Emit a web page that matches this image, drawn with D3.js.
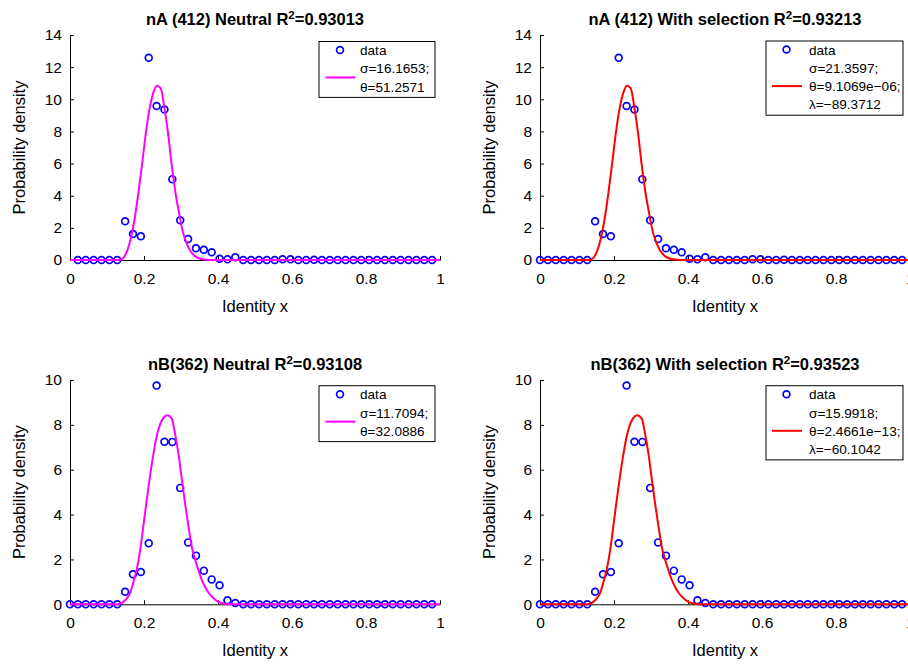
<!DOCTYPE html>
<html><head><meta charset="utf-8">
<script src="https://cdn.jsdelivr.net/npm/d3@7/dist/d3.min.js"></script>
<style>
html,body{margin:0;padding:0;background:#fff;overflow:hidden;}
svg{display:block;font-family:"Liberation Sans",Arial,sans-serif;}
</style></head>
<body>
<svg id="c" width="908" height="665"></svg>
<script>
// ---------- data ----------
const binCount = 47;                 // bins at k/47, k = 0..46
const densityA = [0,0,0,0,0,0,0,2.41,1.62,1.48,12.58,9.58,9.36,5.03,2.47,1.31,0.73,0.64,0.48,0.08,0.04,0.17,
  0,0,0,0,0,0.05,0.05,0,0,0.02,0,0,0,0,0,0,0,0,0,0,0,0,0,0,0];
const densityB = [0,0,0,0,0,0,0,0.56,1.34,1.44,2.72,9.75,7.25,7.24,5.19,2.76,2.17,1.50,1.11,0.85,0.18,0.06,
  0,0,0,0,0,0,0,0,0,0,0,0,0,0,0,0,0,0,0,0,0,0,0,0,0];
// fitted curves (x, density)
const fitAx = [0,0.12,0.135,0.145,0.155,0.165,0.175,0.185,0.195,0.205,0.215,0.225,0.235,0.245,0.255,0.265,0.275,0.285,0.295,0.305,0.315,0.325,0.335,0.345,0.36,0.38,1];
const fitAy = [0,0,0.02,0.15,0.6,1.4,2.6,4.2,6.0,7.9,9.4,10.4,10.85,10.7,9.5,7.9,5.9,4.2,2.9,1.75,1.05,0.58,0.3,0.14,0.04,0,0];
const fitBx = [0,0.125,0.135,0.145,0.155,0.162,0.17,0.18,0.19,0.198,0.207,0.216,0.225,0.234,0.243,0.252,0.263,0.275,0.284,0.293,0.302,0.311,0.32,0.329,0.338,0.347,0.356,0.365,0.376,0.388,0.40,0.415,0.43,1];
const fitBy = [0,0,0.03,0.12,0.3,0.49,0.9,1.53,2.45,3.46,4.6,5.68,6.65,7.47,8.0,8.3,8.43,8.28,7.6,6.73,5.6,4.5,3.5,2.57,2.0,1.53,1.1,0.78,0.48,0.27,0.12,0.04,0,0];
const xTicks = [0,0.2,0.4,0.6,0.8,1];
const yTicksA = [0,2,4,6,8,10,12,14];
const yTicksB = [0,2,4,6,8,10];
const titles = [
  ["nA (412) Neutral R","0.93013"],
  ["nA (412) With selection R","0.93213"],
  ["nB(362) Neutral R","0.93108"],
  ["nB(362) With selection R","0.93523"]
];
const legendTexts = [
  ["σ=16.1653;","θ=51.2571"],
  ["σ=21.3597;","θ=9.1069e−06;","λ=−89.3712"],
  ["σ=11.7094;","θ=32.0886"],
  ["σ=15.9918;","θ=2.4661e−13;","λ=−60.1042"]
];

// ---------- layout ----------
const panels = [
  {left:70,  bottom:260,   top:35,  ymax:14, yt:yTicksA, d:densityA, fx:fitAx, fy:fitAy, color:"#ff00ff", skipFirst:true,  leg:{x:319,y:41.5,w:116}},
  {left:540, bottom:260,   top:35,  ymax:14, yt:yTicksA, d:densityA, fx:fitAx, fy:fitAy, color:"#ff0000", skipFirst:false, leg:{x:766,y:41,w:137}},
  {left:70,  bottom:604.3, top:380, ymax:10, yt:yTicksB, d:densityB, fx:fitBx, fy:fitBy, color:"#ff00ff", skipFirst:false, leg:{x:319,y:385.7,w:116}},
  {left:540, bottom:604.3, top:380, ymax:10, yt:yTicksB, d:densityB, fx:fitBx, fy:fitBy, color:"#ff0000", skipFirst:false, leg:{x:766,y:385.7,w:137}}
];
const W = 370;
const svg = d3.select("#c");

panels.forEach((p,i)=>{
  const x = d3.scaleLinear().domain([0,1]).range([p.left,p.left+W]);
  const y = d3.scaleLinear().domain([0,p.ymax]).range([p.bottom,p.top]);
  const g = svg.append("g");

  const xa = g.append("g").attr("transform",`translate(0,${p.bottom})`)
    .call(d3.axisBottom(x).tickValues(xTicks).tickFormat(d3.format("")).tickSize(-4).tickSizeOuter(0).tickPadding(13));
  const ya = g.append("g").attr("transform",`translate(${p.left},0)`)
    .call(d3.axisLeft(y).tickValues(p.yt).tickFormat(d3.format("")).tickSize(-4).tickSizeOuter(0).tickPadding(8));
  [xa,ya].forEach(a=>{
    a.selectAll("text").attr("font-size",15.5).attr("fill","#000").attr("font-family","Liberation Sans, Arial, sans-serif");
    a.selectAll("line").attr("stroke","#000");
    a.select(".domain").attr("stroke","#000");
  });

  // title
  const t = g.append("text").attr("x",p.left+W/2).attr("y",p.top-10).attr("text-anchor","middle")
    .attr("font-size",16.5).attr("font-weight","bold");
  t.append("tspan").text(titles[i][0]);
  t.append("tspan").attr("dy",-6).attr("font-size",11.5).text("2");
  t.append("tspan").attr("dy",6).text("="+titles[i][1]);

  // axis labels
  g.append("text").attr("x",p.left+W/2).attr("y",p.bottom+52).attr("text-anchor","middle")
    .attr("font-size",16.5).text("Identity x");
  g.append("text").attr("transform",`translate(${p.left-45},${(p.top+p.bottom)/2}) rotate(-90)`)
    .attr("text-anchor","middle").attr("font-size",16.5).text("Probability density");

  // data circles
  const pts = p.d.map((v,k)=>({k,v})).filter(o=>!(p.skipFirst && o.k===0));
  g.append("g").selectAll("circle").data(pts).join("circle")
    .attr("cx",o=>x(o.k/binCount)).attr("cy",o=>y(o.v)).attr("r",3.4)
    .attr("fill","none").attr("stroke","#0000ff").attr("stroke-width",1.7);

  // fit curve
  const line = d3.line().x(d=>x(d[0])).y(d=>y(d[1])).curve(d3.curveMonotoneX);
  g.append("path").datum(p.fx.map((xv,j)=>[xv,p.fy[j]])).attr("d",line)
    .attr("fill","none").attr("stroke",p.color).attr("stroke-width",2);

  // legend
  const lt = legendTexts[i];
  const lh = 18.3;
  const L = p.leg;
  const h = (1+lt.length)*lh + 1;
  const lg = g.append("g");
  lg.append("rect").attr("x",L.x).attr("y",L.y).attr("width",L.w).attr("height",h)
    .attr("fill","#fff").attr("stroke","#000").attr("stroke-width",1);
  const tx = L.x + (lt.length===3 ? 43 : 41);
  const mx = L.x + (lt.length===3 ? 20.5 : 21);
  const base0 = L.y + 13.5;
  lg.append("circle").attr("cx",mx).attr("cy",base0-5).attr("r",3.4)
    .attr("fill","none").attr("stroke","#0000ff").attr("stroke-width",1.7);
  lg.append("text").attr("x",tx).attr("y",base0).attr("font-size",13.6).text("data");
  lt.forEach((s,j)=>{
    lg.append("text").attr("x",tx).attr("y",base0+(j+1)*lh).attr("font-size",13.6).text(s);
  });
  const lineY = base0 - 5 + lh*(1 + (lt.length-1)/2);
  lg.append("line").attr("x1",mx-14.5).attr("x2",mx+15.5).attr("y1",lineY).attr("y2",lineY)
    .attr("stroke",p.color).attr("stroke-width",2);
});
</script>
</body></html>
